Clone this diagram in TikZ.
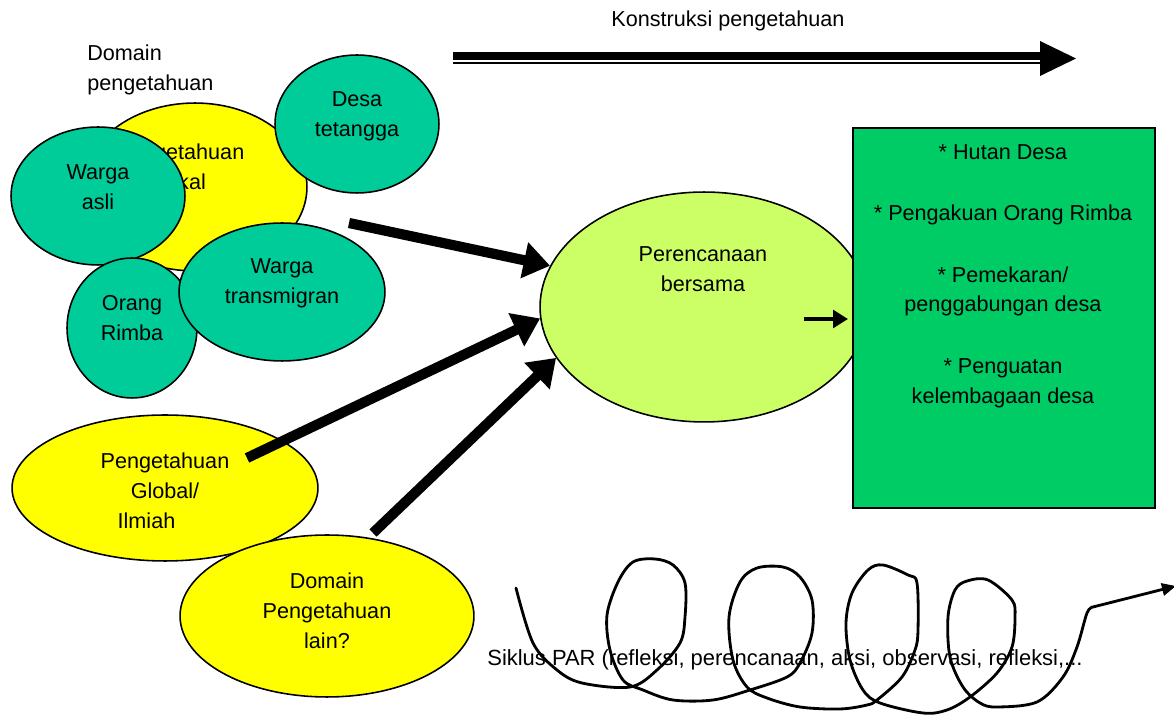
\documentclass[tikz,border=0pt]{standalone}
\usepackage{fontspec}
\setmainfont{Liberation Sans}
\usetikzlibrary{shapes.geometric,arrows.meta}
\definecolor{yel}{HTML}{FFFF00}
\definecolor{tealc}{HTML}{00CC99}
\definecolor{lgreen}{HTML}{CCFF66}
\definecolor{boxgreen}{HTML}{00CC66}
\tikzset{
  ell/.style 2 args={minimum width=#1*0.04cm, minimum height=#2*0.04cm},
}
\begin{document}
\begin{tikzpicture}[x=0.02cm,y=-0.02cm,
  every node/.style={font=\fontsize{12.3}{17}\selectfont, inner sep=0pt},
  blob/.style={ellipse, draw=black, line width=0.9pt},
  txt/.style={align=center},
  bigarrow/.style={line width=5.8pt, -{Triangle[length=15pt,width=20pt]}},
  smallarrow/.style={line width=2.8pt, -{Triangle[length=8.5pt,width=10pt]}},
  spiral/.style={line width=1.6pt, line join=round, line cap=round}
]
\useasboundingbox (0,0) rectangle (1174,715);

% domain label
\node[align=left, anchor=west] (domlab) at (87,70) {Domain\\pengetahuan};

% local knowledge cluster
\node[blob, fill=yel, ell={112}{84}] (lokal) at (195,187) {};
\node[txt] (lokalt) at (180,167) {Pengetahuan\\Lokal};
\node[blob, fill=tealc, ell={82}{69}] (desa) at (357,124) {};
\node[txt] (desat) at (357,116) {Desa\\tetangga};
\node[blob, fill=tealc, ell={87}{69}] (asli) at (98,196) {};
\node[txt] (aslit) at (98,187) {Warga\\asli};
\node[blob, fill=tealc, ell={65}{70}] (rimba) at (132,328) {};
\node[txt] (rimbat) at (132,318) {Orang\\Rimba};
\node[blob, fill=tealc, ell={103}{69}] (trans) at (282,292) {};
\node[txt] (transt) at (282,283) {Warga\\transmigran};

% global & other
\node[blob, fill=yel, ell={153}{73}] (global) at (165,488) {};
\node[txt] (globalt) at (165,491) {Pengetahuan\\Global/\\Ilmiah\hspace*{0.74cm}};
\node[blob, fill=yel, ell={147}{81}] (lain) at (327,616) {};
\node[txt] (laint) at (327,611) {Domain\\Pengetahuan\\lain?};

% central planning
\node[blob, fill=lgreen, ell={164}{115}] (per) at (704,307) {};
\node[txt] (pert) at (703,269) {Perencanaan\\bersama};

% outcomes box
\node[draw=black, line width=0.9pt, fill=boxgreen, minimum width=302*0.02cm, minimum height=380*0.02cm, anchor=north west] (box) at (852,127) {};
\node[txt] (boxt) at (1003,276) {* Hutan Desa\\[18pt]* Pengakuan Orang Rimba\\[18pt]* Pemekaran/\\penggabungan desa\\[18pt]* Penguatan\\kelembagaan desa};

% arrows into planning
\coordinate (t1) at (349,223);
\coordinate (t2) at (247,458);
\coordinate (t3) at (373,533);
\draw[bigarrow] (t1) -- (per.165);
\draw[bigarrow] (t2) -- (per.184);
\draw[bigarrow] (t3) -- (per.199);

% small arrow inside planning
\coordinate (s1) at (804,319);
\coordinate (s2) at (848,319);
\draw[smallarrow] (s1) -- (s2);

% knowledge construction arrow
\node (kons) at (728,21) {Konstruksi pengetahuan};
\coordinate (ka) at (453,56);
\coordinate (kb) at (1041,56);
\coordinate (kc) at (453,63);
\coordinate (kd) at (1041,63);
\draw[line width=4.6pt] (ka) -- (kb);
\draw[line width=1.2pt] (kc) -- (kd);
\fill (1040,41) -- (1076,58.5) -- (1040,76) -- cycle;

% PAR cycle
\node[anchor=west, font=\fontsize{12.5}{17}\selectfont] (siklus) at (487,660) {Siklus PAR (refleksi, perencanaan, aksi, observasi, refleksi,...};
\coordinate (sp0) at (516,588);
\coordinate (sp1) at (1093,607);
\coordinate (sp2) at (1176,586);
\draw[spiral] plot[smooth, tension=0.55] coordinates {
(516,588) (533,643) (557,670) (582,683) (630,687) (657,670) (680,643) (685,617) (685,583) (673,565) (655,559) (633,562) (618,582) (607,615) (610,650) (623,680) (643,690) (673,700) (713,700) (750,690)
(787,677) (800,663) (812,633) (812,600) (800,577) (783,567) (757,568) (740,582) (729,617) (733,660) (747,687) (767,698) (800,707) (840,709)
(867,705) (877,700) (902,677) (915,650) (918,630) (917,583) (908,575) (883,565) (868,570) (852,593) (846,623) (850,660) (863,690) (880,703) (923,713) (947,710) (970,697)
(997,673) (1012,647) (1015,617) (1012,600) (988,580) (967,581) (955,590) (948,617) (950,657) (963,687) (980,703) (997,707) (1037,702) (1063,677) (1077,647) (1087,613) (1093,607)};
\draw[line width=1.6pt, -{Triangle[length=8pt,width=7pt]}] (sp1) -- (sp2);
\end{tikzpicture}
\end{document}
